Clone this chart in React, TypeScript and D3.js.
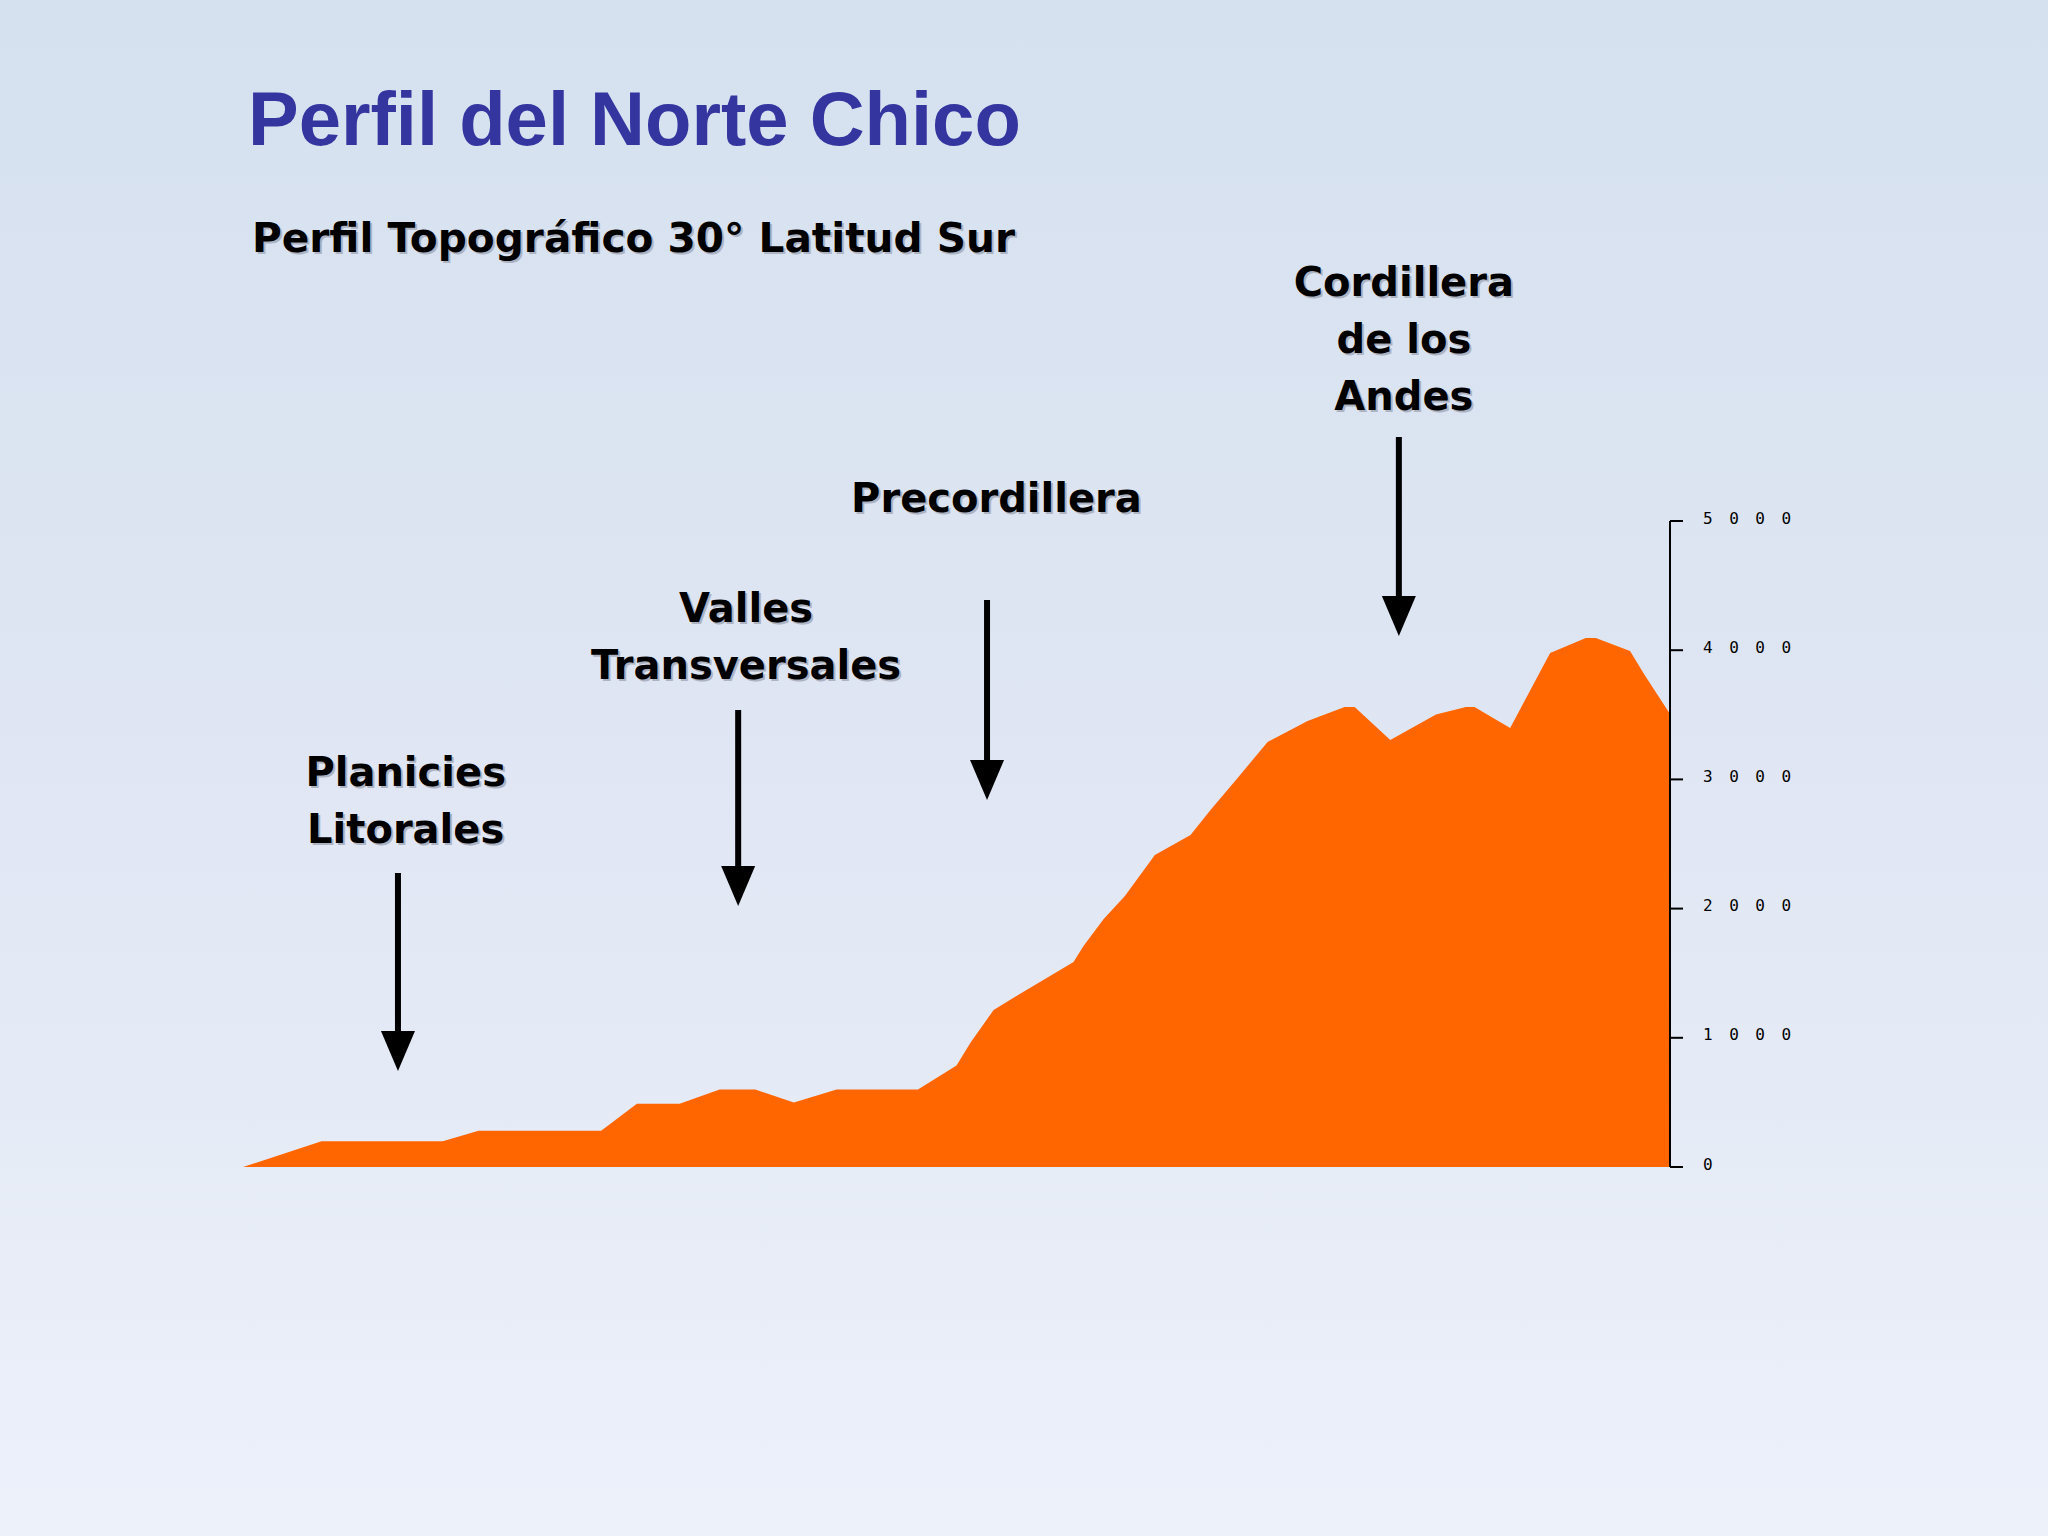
import React from "react";
import * as d3 from "d3";

// Topographic profile at 30° S (distance index 0–100, elevation in metres)
const distance = [0, 5.5, 14.0, 16.5, 25.1, 27.6, 30.6, 33.4, 35.9, 38.6, 41.6, 47.3, 50.0, 51.0, 52.6, 54.2, 58.2, 58.9, 60.3, 61.8, 63.9, 66.4, 67.8, 69.7, 71.8, 74.6, 77.2, 77.9, 80.4, 83.6, 85.7, 86.3, 88.8, 91.6, 94.1, 94.8, 97.2, 98.2, 100];
const elevation = [0, 200, 200, 280, 280, 490, 490, 600, 600, 500, 600, 600, 785, 966, 1215, 1323, 1586, 1710, 1918, 2097, 2415, 2570, 2763, 3011, 3290, 3452, 3560, 3560, 3305, 3502, 3560, 3560, 3398, 3978, 4094, 4094, 3994, 3811, 3506];
const yTicks = [0, 1000, 2000, 3000, 4000, 5000];

const title = "Perfil del Norte Chico";
const subtitle = "Perfil Topográfico 30° Latitud Sur";

// annotation labels: lines of text, where the label sits along the profile
const labelLines = [["Planicies", "Litorales"], ["Valles", "Transversales"], ["Precordillera"], ["Cordillera", "de los", "Andes"]];
const labelDist = [11.4, 35.25, 52.8, 81.35];
const arrowDist = [10.86, 34.7, 52.14, 81.0];

export default function App() {
  const W = 2048, H = 1536;
  const x = d3.scaleLinear().domain([0, 100]).range([243, 1670]);
  const y = d3.scaleLinear().domain([0, 5000]).range([1167, 521]);
  const pts = distance.map((d, i) => [d, elevation[i]] as [number, number]);
  const area = d3.area<[number, number]>().x(d => x(d[0])).y0(y(0)).y1(d => y(d[1])).curve(d3.curveLinear)(pts) || "";

  const font = "'DejaVu Sans', Verdana, sans-serif";
  // per label layout: first baseline y, arrow top, arrow tip
  const layout = [
    { base: 786, top: 873, tip: 1071 },
    { base: 622, top: 710, tip: 906 },
    { base: 512, top: 600, tip: 800 },
    { base: 296, top: 437, tip: 636 },
  ];
  const lineH = 57;
  const shadow = "#aeb3c2";

  return (
    <svg width={W} height={H} style={{ position: "absolute", left: 0, top: 0 }} xmlns="http://www.w3.org/2000/svg">
      <defs>
        <linearGradient id="bg" x1="0" y1="0" x2="0" y2="1">
          <stop offset="0" stopColor="#d5e1ef" />
          <stop offset="0.5" stopColor="#e0e6f3" />
          <stop offset="1" stopColor="#ecf1fa" />
        </linearGradient>
      </defs>
      <rect x={0} y={0} width={W} height={H} fill="url(#bg)" />

      <text x={248} y={145} fontFamily="'Liberation Sans', Arial, sans-serif" fontWeight="bold" fontSize={76} fill="#3535a0">{title}</text>

      <text x={254} y={254} fontFamily={font} fontWeight="bold" fontSize={40} fill={shadow} textLength={763} lengthAdjust="spacingAndGlyphs">{subtitle}</text>
      <text x={252} y={252} fontFamily={font} fontWeight="bold" fontSize={40} fill="#000" textLength={763} lengthAdjust="spacingAndGlyphs">{subtitle}</text>

      <path d={area} fill="#ff6600" />

      {/* axis */}
      <line x1={x(100)} x2={x(100)} y1={y(5000)} y2={y(0)} stroke="#000" strokeWidth={2} />
      {yTicks.map(t => (
        <g key={t}>
          <line x1={x(100)} x2={x(100) + 13} y1={y(t)} y2={y(t)} stroke="#000" strokeWidth={2} />
          <text x={1703} y={y(t) - 3} dominantBaseline="central" fontFamily="'DejaVu Sans Mono', monospace" fontSize={16} letterSpacing={16.5} fill="#000">{String(t)}</text>
        </g>
      ))}

      {labelLines.map((lines, i) => {
        const L = layout[i];
        const ax = x(arrowDist[i]);
        return (
          <g key={i}>
            {lines.map((s, j) => (
              <g key={j}>
                <text x={x(labelDist[i]) + 2} y={L.base + j * lineH + 2} textAnchor="middle" fontFamily={font} fontWeight="bold" fontSize={40} fill={shadow}>{s}</text>
                <text x={x(labelDist[i])} y={L.base + j * lineH} textAnchor="middle" fontFamily={font} fontWeight="bold" fontSize={40} fill="#000">{s}</text>
              </g>
            ))}
            <line x1={ax} x2={ax} y1={L.top} y2={L.tip - 38} stroke="#000" strokeWidth={6} />
            <path d={`M${ax - 17},${L.tip - 40} L${ax + 17},${L.tip - 40} L${ax},${L.tip} Z`} fill="#000" />
          </g>
        );
      })}
    </svg>
  );
}
